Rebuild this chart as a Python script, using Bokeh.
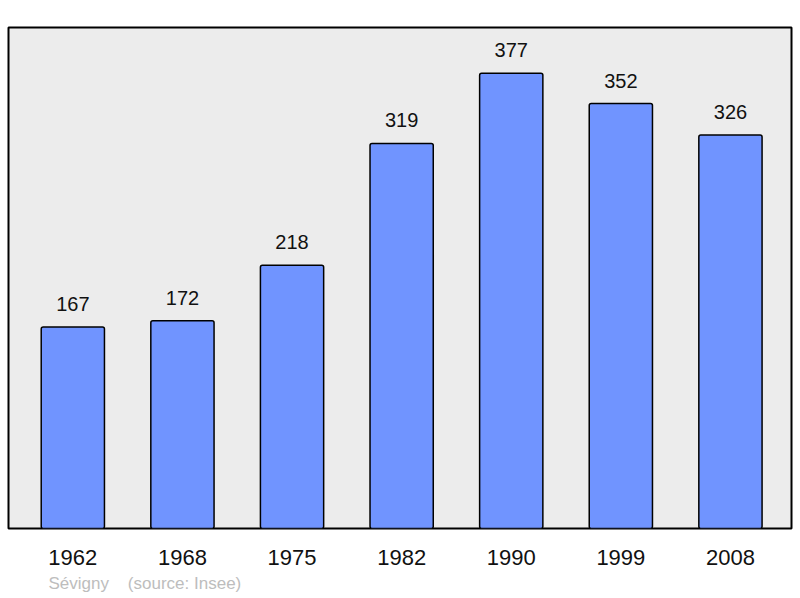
from bokeh.plotting import figure
from bokeh.models import Range1d, FixedTicker, Title
from bokeh.core.properties import value
from bokeh.embed import file_html
from bokeh.resources import INLINE

years = ["1962", "1968", "1975", "1982", "1990", "1999", "2008"]
population = [167, 172, 218, 319, 377, 352, 326]
value_labels = [str(v) for v in population]
source_text = "Sévigny\u00a0\u00a0\u00a0\u00a0(source: Insee)"

xs = list(range(len(years)))
FONT = "Liberation Sans"

p = figure(width=793, height=597, output_backend="svg", toolbar_location=None,
           x_range=Range1d(-0.587, 6.557), y_range=Range1d(0, 415),
           y_axis_location=None, min_border_left=8, min_border_right=2,
           min_border_top=27, min_border_bottom=69)
p.background_fill_color = "#ececec"
p.border_fill_color = "white"
p.outline_line_color = "black"
p.outline_line_width = 2
p.xgrid.visible = False
p.ygrid.visible = False

p.vbar(x=xs, top=population, bottom=0, width=0.577, fill_color="#7094ff",
       line_color="black", line_width=1.5, border_radius=2)
p.text(x=xs, y=population, text=value_labels, text_align="center",
       text_baseline="alphabetic", y_offset=-23, text_font=value(FONT),
       text_font_size="20px", text_color="#111111")

ax = p.xaxis[0]
ax.ticker = FixedTicker(ticks=xs)
ax.major_label_overrides = {i: y for i, y in zip(xs, years)}
ax.axis_line_color = None
ax.major_tick_line_color = None
ax.minor_tick_line_color = None
ax.major_label_standoff = 15
ax.major_label_text_font = FONT
ax.major_label_text_font_size = "22px"
ax.major_label_text_color = "#111111"

t = Title(text=source_text, align="left", offset=40, text_font=FONT,
          text_font_size="17px", text_font_style="normal", text_color="#bdbdbd",
          standoff=9)
p.add_layout(t, "below")

open("out.html", "w").write(file_html(p, INLINE))
